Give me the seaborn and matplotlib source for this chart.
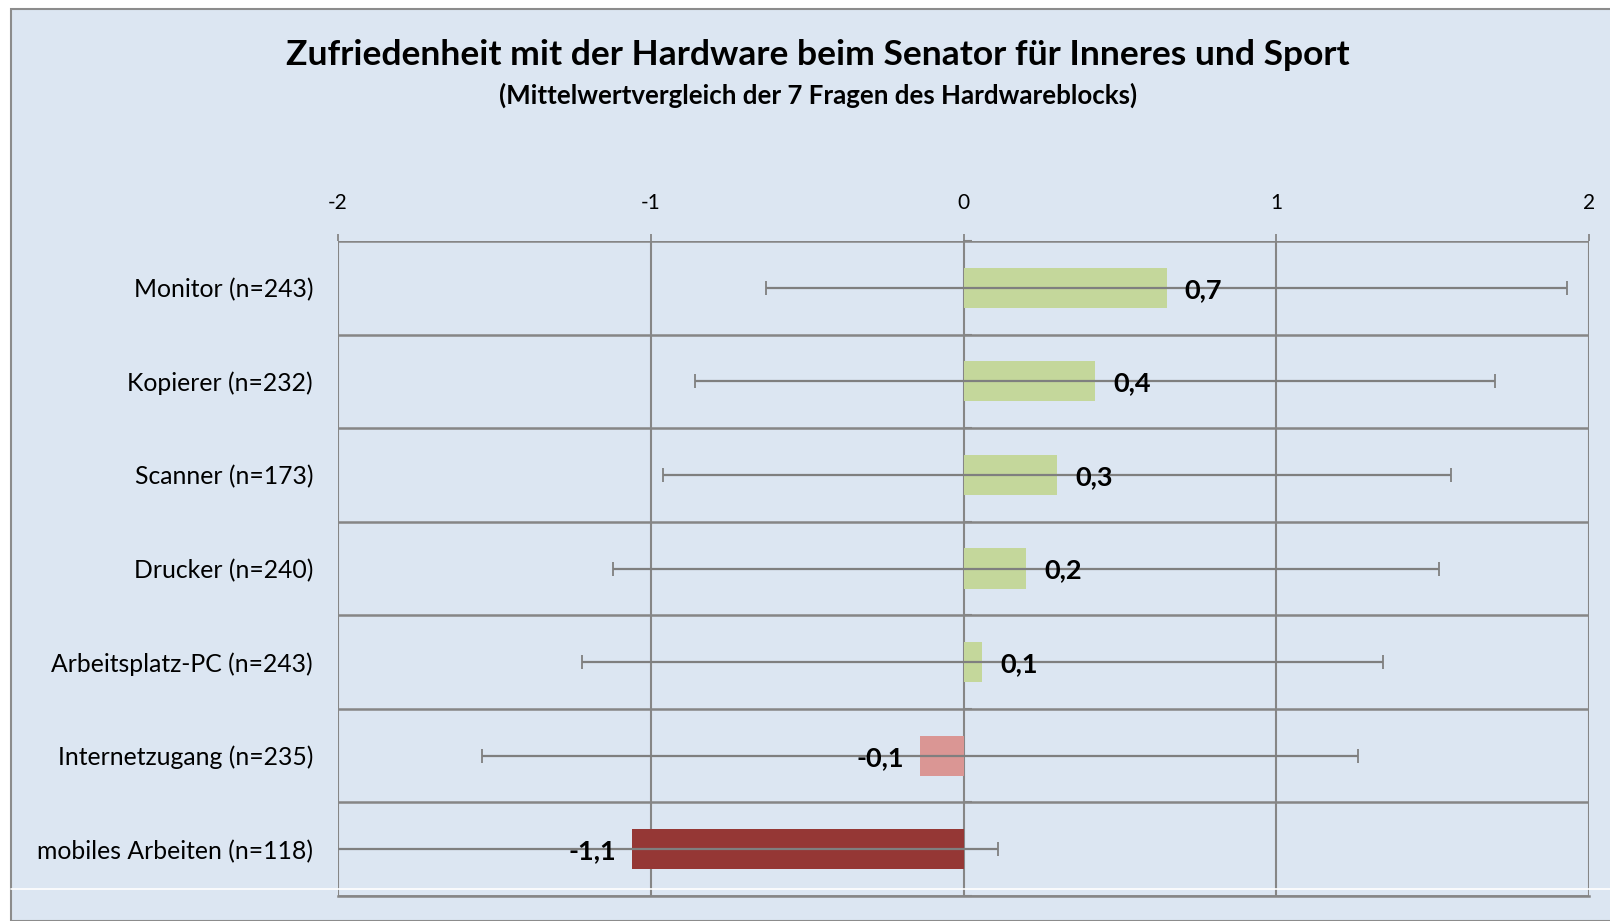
import matplotlib
matplotlib.use("Agg")
import matplotlib.pyplot as plt
from matplotlib.patches import Rectangle
from matplotlib.lines import Line2D
import seaborn as sns
import pandas as pd

# ---- data ----
categories = ["Monitor (n=243)", "Kopierer (n=232)", "Scanner (n=173)", "Drucker (n=240)",
              "Arbeitsplatz-PC (n=243)", "Internetzugang (n=235)", "mobiles Arbeiten (n=118)"]
means = [0.65, 0.42, 0.30, 0.20, 0.06, -0.14, -1.06]
spread = [1.28, 1.28, 1.26, 1.32, 1.28, 1.40, 1.17]
value_labels = ["0,7", "0,4", "0,3", "0,2", "0,1", "-0,1", "-1,1"]
bar_colors = ["#C4D79B", "#C4D79B", "#C4D79B", "#C4D79B", "#C4D79B", "#DA9694", "#953735"]
x_ticks = [-2, -1, 0, 1, 2]
x_tick_labels = ["-2", "-1", "0", "1", "2"]
title = "Zufriedenheit mit der Hardware beim Senator für Inneres und Sport"
subtitle = "(Mittelwertvergleich der 7 Fragen des Hardwareblocks)"

BG = "#DCE6F2"
GRID = "#868686"

sns.set_theme(style="white")
plt.rcParams["font.family"] = ["Lato", "DejaVu Sans"]

fig = plt.figure(figsize=(16.1, 9.21), dpi=100)
fig.patch.set_facecolor("white")
# chart area background with gray frame (left/top)
fig.add_artist(Rectangle((11 / 1610, 0), 1.0, 1 - 9 / 921, transform=fig.transFigure,
                         facecolor=BG, edgecolor="#8C8C8C", linewidth=1.5, zorder=-10))

ax = fig.add_axes([338 / 1610, 1 - 896 / 921, (1589 - 338) / 1610, (896 - 241) / 921])
ax.set_facecolor(BG)

df = pd.DataFrame({"cat": categories, "mean": means})
sns.barplot(data=df, x="mean", y="cat", hue="cat", palette=bar_colors, orient="h",
            width=0.43, errorbar=None, legend=False, ax=ax, saturation=1, zorder=2,
            linewidth=0)

ypos = list(range(len(categories)))
ax.errorbar(means, ypos, xerr=spread, fmt="none", ecolor="#7F7F7F", elinewidth=1.6,
            capsize=5, capthick=1.3, zorder=3)

ax.set_xlim(-2, 2)
ax.set_ylim(len(categories) - 0.5, -0.5)

# value labels
for y, m, lab in zip(ypos, means, value_labels):
    if m >= 0:
        ax.annotate(lab, (m, y), xytext=(13, -1.5), textcoords="offset points",
                    ha="left", va="center", fontsize=19.5, fontweight="bold", color="black", zorder=4)
    else:
        ax.annotate(lab, (m, y), xytext=(-11, -1.5), textcoords="offset points",
                    ha="right", va="center", fontsize=19.5, fontweight="bold", color="black", zorder=4)

# x axis on top
ax.xaxis.tick_top()
ax.set_xticks(x_ticks)
ax.set_xticklabels(x_tick_labels)
ax.tick_params(axis="x", which="major", length=5, width=1.3, color=GRID, pad=15,
               labelsize=15, labelcolor="black")
ax.set_xlabel("")
ax.set_ylabel("")

# y axis labels
ax.set_yticks(ypos)
ax.set_yticklabels(categories)
ax.tick_params(axis="y", which="major", length=0, pad=18, labelsize=17.8, labelcolor="black")

# grid: vertical at integer ticks, horizontal at row boundaries
ax.set_yticks([i - 0.5 for i in range(len(categories) + 1)], minor=True)
ax.tick_params(axis="y", which="minor", length=0)
ax.grid(True, axis="x", which="major", color=GRID, linewidth=1.5, zorder=0)
ax.grid(True, axis="y", which="minor", color=GRID, linewidth=1.8, zorder=0)
ax.set_axisbelow(True)
for s in ax.spines.values():
    s.set_visible(False)
ax.spines["bottom"].set_visible(True)
ax.spines["bottom"].set_color(GRID)
ax.spines["bottom"].set_linewidth(1.8)

# category axis crossing at zero (with small ticks)
sec = ax.secondary_yaxis(0.5)
sec.set_yticks([i - 0.5 for i in range(len(categories) + 1)])
sec.set_yticklabels([])
sec.tick_params(length=6, width=1.5, color=GRID)
sec.spines["left"].set_color(GRID)
sec.spines["left"].set_linewidth(1.8)

# faint white line near bottom
fig.add_artist(Line2D([11 / 1610, 1.0], [1 - 889 / 921, 1 - 889 / 921], transform=fig.transFigure,
                      color="white", linewidth=1.2, zorder=5))

fig.text(818 / 1610, 1 - 55 / 921, title, ha="center", va="center", fontsize=25.5,
         fontweight="bold", color="black")
fig.text(818 / 1610, 1 - 95 / 921, subtitle, ha="center", va="center", fontsize=18.6,
         fontweight="bold", color="black")

fig.savefig("out.png", dpi=100, facecolor=fig.get_facecolor())
